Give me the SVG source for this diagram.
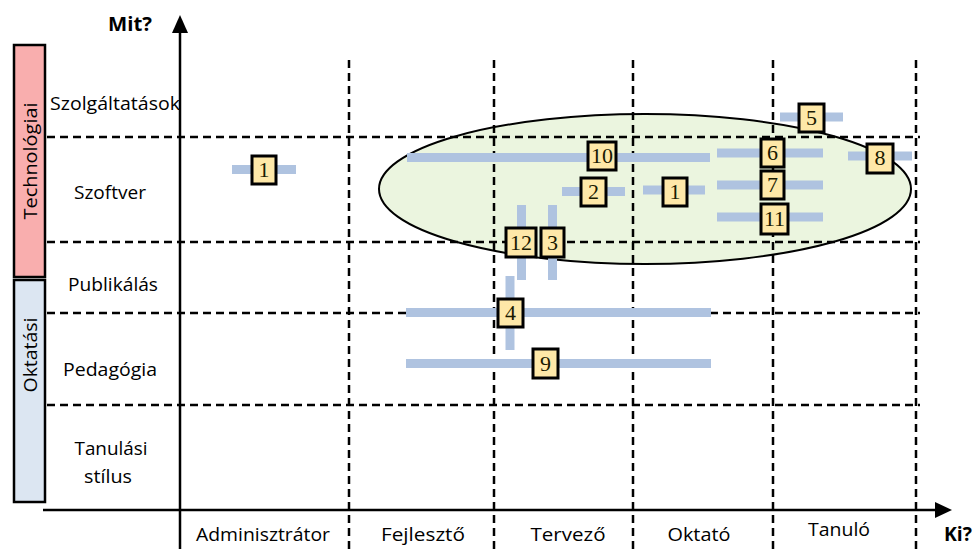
<svg xmlns="http://www.w3.org/2000/svg" width="974" height="549" viewBox="0 0 974 549">
  <style>
    .grid { stroke: #000; stroke-width: 2.5; stroke-dasharray: 8 5; fill: none; }
    .axis { stroke: #000; stroke-width: 2.5; fill: none; }
    .lbl { font-family: "Open Sans", Lato, "Liberation Sans", sans-serif; font-size: 18px; fill: #000; }
    .axt { font-family: "Open Sans", Lato, "Liberation Sans", sans-serif; font-size: 19px; font-weight: bold; fill: #000; }
    .bar { stroke: #afc3e0; stroke-width: 9; fill: none; }
    .box rect { fill: #fee8a8; stroke: #000; stroke-width: 3; }
    .box text { font-family: "Liberation Serif", "Times New Roman", serif; font-size: 22px; fill: #1a1a00; text-anchor: middle; }
  </style>

  <!-- category bars on the left -->
  <g id="cat-technologiai">
    <rect x="14" y="45" width="31" height="232" fill="#f9aeae" stroke="#000" stroke-width="2.5"/>
    <text class="lbl" transform="translate(37,161) rotate(-90)" text-anchor="middle" font-size="19" textLength="117" lengthAdjust="spacingAndGlyphs">Technológiai</text>
  </g>
  <g id="cat-oktatasi">
    <rect x="14" y="280" width="31" height="222" fill="#dce6f2" stroke="#000" stroke-width="2.5"/>
    <text class="lbl" transform="translate(37,355) rotate(-90)" text-anchor="middle" font-size="19" textLength="75" lengthAdjust="spacingAndGlyphs">Oktatási</text>
  </g>

  <!-- highlighted region -->
  <g id="region">
    <ellipse cx="645" cy="189" rx="266" ry="75" fill="#ebf5df" stroke="#000" stroke-width="2"/>
  </g>

  <!-- grid -->
  <g id="grid">
    <line class="grid" x1="47" y1="137" x2="920" y2="137"/>
    <line class="grid" x1="47" y1="242" x2="920" y2="242"/>
    <line class="grid" x1="47" y1="313" x2="920" y2="313"/>
    <line class="grid" x1="47" y1="405" x2="920" y2="405"/>
    <line class="grid" x1="349" y1="60" x2="349" y2="549"/>
    <line class="grid" x1="494" y1="60" x2="494" y2="549"/>
    <line class="grid" x1="633" y1="60" x2="633" y2="549"/>
    <line class="grid" x1="773" y1="60" x2="773" y2="549"/>
    <line class="grid" x1="916" y1="60" x2="916" y2="549"/>
  </g>

  <!-- axes -->
  <g id="axes">
    <line class="axis" x1="180" y1="549" x2="180" y2="30"/>
    <polygon points="180,15 172,33 188,33" fill="#000"/>
    <line class="axis" x1="43" y1="510" x2="938" y2="510"/>
    <polygon points="952,510 935,502 935,518" fill="#000"/>
    <text class="axt" x="130" y="31" text-anchor="middle" textLength="44" lengthAdjust="spacingAndGlyphs">Mit?</text>
    <text class="axt" x="958" y="541" text-anchor="middle" textLength="28" lengthAdjust="spacingAndGlyphs">Ki?</text>
  </g>

  <!-- row labels -->
  <g id="rows">
    <text class="lbl" x="115" y="110" text-anchor="middle" textLength="130" lengthAdjust="spacingAndGlyphs">Szolgáltatások</text>
    <text class="lbl" x="110" y="199" text-anchor="middle" textLength="72" lengthAdjust="spacingAndGlyphs">Szoftver</text>
    <text class="lbl" x="113" y="291" text-anchor="middle" textLength="90" lengthAdjust="spacingAndGlyphs">Publikálás</text>
    <text class="lbl" x="110" y="376" text-anchor="middle" textLength="94" lengthAdjust="spacingAndGlyphs">Pedagógia</text>
    <text class="lbl" x="111" y="455" text-anchor="middle" textLength="73" lengthAdjust="spacingAndGlyphs">Tanulási</text>
    <text class="lbl" x="108" y="483" text-anchor="middle" textLength="48" lengthAdjust="spacingAndGlyphs">stílus</text>
  </g>

  <!-- column labels -->
  <g id="cols">
    <text class="lbl" x="263" y="541" text-anchor="middle" textLength="134" lengthAdjust="spacingAndGlyphs">Adminisztrátor</text>
    <text class="lbl" x="423" y="541" text-anchor="middle" textLength="84" lengthAdjust="spacingAndGlyphs">Fejlesztő</text>
    <text class="lbl" x="568" y="541" text-anchor="middle" textLength="75" lengthAdjust="spacingAndGlyphs">Tervező</text>
    <text class="lbl" x="699" y="541" text-anchor="middle" textLength="63" lengthAdjust="spacingAndGlyphs">Oktató</text>
    <text class="lbl" x="839" y="536" text-anchor="middle" textLength="62" lengthAdjust="spacingAndGlyphs">Tanuló</text>
  </g>

  <!-- spans of each item -->
  <g id="connectors">
    <line class="bar" x1="232" y1="169.5" x2="296" y2="169.5"/>
    <line class="bar" x1="407" y1="157.5" x2="710" y2="157.5"/>
    <line class="bar" x1="562" y1="191.5" x2="625" y2="191.5"/>
    <line class="bar" x1="643" y1="190" x2="705" y2="190"/>
    <line class="bar" x1="717" y1="153" x2="823" y2="153"/>
    <line class="bar" x1="717" y1="185" x2="823" y2="185"/>
    <line class="bar" x1="717" y1="217" x2="823" y2="217"/>
    <line class="bar" x1="780" y1="117" x2="843" y2="117"/>
    <line class="bar" x1="848" y1="156" x2="912" y2="156"/>
    <line class="bar" x1="521.5" y1="205" x2="521.5" y2="280"/>
    <line class="bar" x1="552.5" y1="205" x2="552.5" y2="280"/>
    <line class="bar" x1="510" y1="276" x2="510" y2="350"/>
    <line class="bar" x1="406" y1="312.5" x2="711" y2="312.5"/>
    <line class="bar" x1="406" y1="363.5" x2="711" y2="363.5"/>
  </g>

  <!-- numbered items -->
  <g id="n1a" class="box"><rect x="252" y="156" width="24" height="28"/><text x="264" y="177">1</text></g>
  <g id="n10" class="box"><rect x="588" y="142" width="28" height="28"/><text x="602" y="163">10</text></g>
  <g id="n2" class="box"><rect x="581" y="178" width="25" height="28"/><text x="593.5" y="199">2</text></g>
  <g id="n1b" class="box"><rect x="663" y="178" width="24" height="28"/><text x="675" y="199">1</text></g>
  <g id="n5" class="box"><rect x="799" y="104" width="25" height="28"/><text x="811.5" y="125">5</text></g>
  <g id="n6" class="box"><rect x="761" y="139" width="23" height="28"/><text x="772.5" y="160">6</text></g>
  <g id="n7" class="box"><rect x="761" y="171" width="23" height="28"/><text x="772.5" y="192">7</text></g>
  <g id="n11" class="box"><rect x="761" y="204" width="27" height="30"/><text x="774.5" y="226">11</text></g>
  <g id="n8" class="box"><rect x="867" y="144" width="26" height="29"/><text x="880" y="165">8</text></g>
  <g id="n12" class="box"><rect x="506" y="228" width="30" height="29"/><text x="521" y="250">12</text></g>
  <g id="n3" class="box"><rect x="541" y="228" width="23" height="29"/><text x="552.5" y="250">3</text></g>
  <g id="n4" class="box"><rect x="498" y="299" width="25" height="28"/><text x="510.5" y="320">4</text></g>
  <g id="n9" class="box"><rect x="533" y="349" width="25" height="29"/><text x="545.5" y="371">9</text></g>
</svg>
